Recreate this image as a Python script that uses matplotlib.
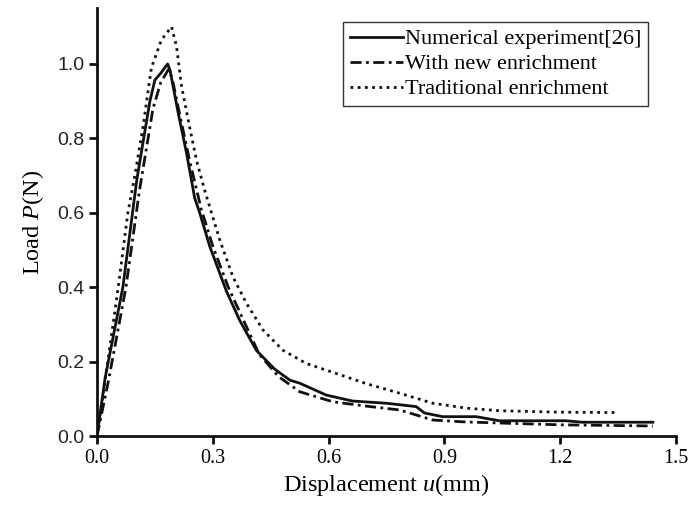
import matplotlib
matplotlib.use("Agg")
import matplotlib.pyplot as plt

plt.rcParams["mathtext.fontset"] = "custom"
plt.rcParams["mathtext.it"] = "Liberation Serif:italic"
plt.rcParams["mathtext.rm"] = "Liberation Serif"

# Load–displacement curves
x_exp = [0.0, 0.021, 0.067, 0.103, 0.137, 0.15, 0.165, 0.183, 0.189, 0.21, 0.232, 0.253,
         0.266, 0.292, 0.335, 0.37, 0.413, 0.46, 0.5, 0.525, 0.594, 0.662, 0.75, 0.827,
         0.848, 0.895, 0.982, 1.042, 1.215, 1.257, 1.44]
y_exp = [0.0, 0.156, 0.40, 0.688, 0.90, 0.957, 0.975, 1.0, 0.984, 0.87, 0.76, 0.64,
         0.60, 0.51, 0.39, 0.31, 0.23, 0.18, 0.15, 0.142, 0.11, 0.094, 0.088, 0.079,
         0.062, 0.052, 0.052, 0.041, 0.041, 0.037, 0.037]

x_new = [0.0, 0.03, 0.075, 0.11, 0.145, 0.165, 0.185, 0.195, 0.215, 0.24, 0.27, 0.3,
         0.34, 0.38, 0.42, 0.47, 0.525, 0.611, 0.7, 0.784, 0.87, 0.95, 1.042, 1.2, 1.44]
y_new = [0.0, 0.15, 0.40, 0.66, 0.88, 0.95, 0.985, 0.96, 0.86, 0.74, 0.61, 0.51,
         0.40, 0.31, 0.22, 0.16, 0.119, 0.092, 0.08, 0.07, 0.043, 0.038, 0.035, 0.03, 0.027]

x_trad = [0.0, 0.028, 0.055, 0.08, 0.098, 0.119, 0.141, 0.167, 0.193, 0.206, 0.219,
          0.24, 0.258, 0.279, 0.318, 0.352, 0.387, 0.43, 0.481, 0.542, 0.62, 0.697,
          0.784, 0.87, 0.956, 1.042, 1.2, 1.352]
y_trad = [0.0, 0.2, 0.4, 0.6, 0.70, 0.83, 0.99, 1.065, 1.10, 1.047, 0.94,
          0.83, 0.74, 0.66, 0.527, 0.428, 0.357, 0.285, 0.231, 0.195, 0.168, 0.141,
          0.115, 0.088, 0.075, 0.068, 0.064, 0.063]

labels = ["Numerical experiment[26]", "With new enrichment", "Traditional enrichment"]
x_ticks = [0.0, 0.3, 0.6, 0.9, 1.2, 1.5]
y_ticks = [0.0, 0.2, 0.4, 0.6, 0.8, 1.0]

serif = ["Liberation Serif", "DejaVu Serif"]
sans = ["Liberation Sans", "DejaVu Sans"]

fig = plt.figure(figsize=(6.88, 5.09), dpi=100)
ax = fig.add_axes([0.141, 0.1434, 0.8416, 0.8406])

ax.plot(x_exp, y_exp, color="#111111", lw=2.0, ls="-", label=labels[0])
ax.plot(x_new, y_new, color="#111111", lw=2.0, ls=(0, (4, 1.6, 1, 1.6)), label=labels[1])
ax.plot(x_trad, y_trad, color="#111111", lw=2.0, ls=(0, (1, 1.6)), label=labels[2])

ax.set_xlim(0, 1.5)
ax.set_ylim(0, 1.15)
ax.set_xticks(x_ticks)
ax.set_yticks(y_ticks)
ax.set_xticklabels([f"{v:.1f}" for v in x_ticks], fontfamily=serif, fontsize=14.5)
ax.set_yticklabels([f"{v:.1f}" for v in y_ticks], fontfamily=sans, fontsize=14, color="#222222")

for side in ("top", "right"):
    ax.spines[side].set_visible(False)
for side in ("left", "bottom"):
    ax.spines[side].set_linewidth(2.0)
    ax.spines[side].set_color("#111111")
ax.tick_params(direction="out", length=6, width=2.0, color="#111111", pad=3)

ax.set_xlabel("Displacement $u$(mm)", fontfamily=serif, fontsize=17.5, labelpad=3)
ax.set_ylabel("Load $P$(N)", fontfamily=serif, fontsize=17.5, labelpad=8)

leg = ax.legend(loc="upper right", bbox_to_anchor=(0.952, 0.967), prop={"family": serif, "size": 16},
                frameon=True, fancybox=False, edgecolor="#333333", framealpha=1,
                handlelength=2.4, handletextpad=0.1, borderpad=0.3, labelspacing=0.2,
                borderaxespad=0)
leg.get_frame().set_linewidth(1.0)

fig.savefig("out.png", dpi=100)
